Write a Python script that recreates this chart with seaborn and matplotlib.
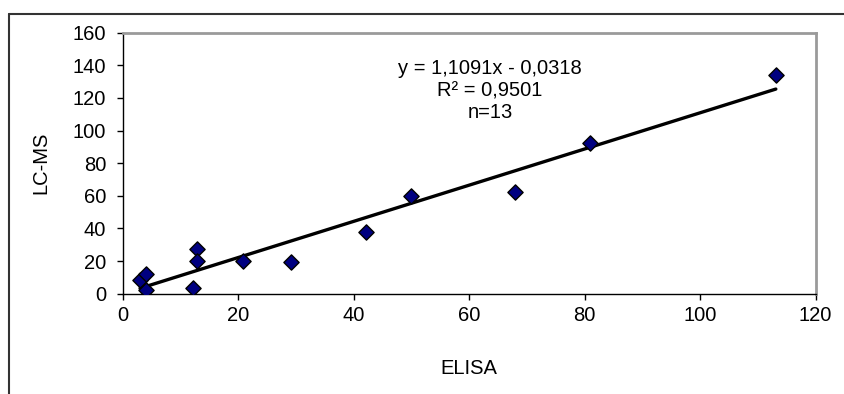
import numpy as np
import pandas as pd
import matplotlib.pyplot as plt
import seaborn as sns
from matplotlib.lines import Line2D

# dati
elisa = [3.0, 4.1, 4.1, 12.1, 12.9, 12.9, 20.9, 29.1, 42.1, 50.0, 67.9, 80.9, 113.1]
lcms = [8.6, 12.0, 2.4, 3.5, 27.3, 20.0, 20.0, 19.2, 37.9, 60.1, 62.2, 92.5, 134.1]
slope = 1.1091
intercept = -0.0318
eq_text = "y = 1,1091x - 0,0318"
r2_text = "R² = 0,9501"
n_text = "n=13"

df = pd.DataFrame({"ELISA": elisa, "LC-MS": lcms})
xs = np.array([min(elisa), max(elisa)])
fit = pd.DataFrame({"x": xs, "y": slope * xs + intercept})

sns.set_style("white")
plt.rcParams["font.family"] = ["Liberation Sans", "DejaVu Sans"]
plt.rcParams["text.color"] = "black"
plt.rcParams["axes.labelcolor"] = "black"
plt.rcParams["xtick.color"] = "black"
plt.rcParams["ytick.color"] = "black"

fs = 14.5

fig = plt.figure(figsize=(8.45, 3.94), dpi=100)
ax = fig.add_axes([0.1452, 0.2546, 0.8201, 0.6626])

sns.lineplot(data=fit, x="x", y="y", color="black", linewidth=2.4, ax=ax, zorder=2)
sns.scatterplot(data=df, x="ELISA", y="LC-MS", marker="D", s=60, color="#000080",
                edgecolor="black", linewidth=1.0, ax=ax, zorder=3)

ax.set_xlim(0, 120)
ax.set_ylim(0, 160)
ax.set_xticks(range(0, 121, 20))
ax.set_yticks(range(0, 161, 20))
ax.tick_params(axis="both", direction="out", length=4, width=1, color="black",
               labelsize=fs, left=True, bottom=True)
ax.tick_params(axis="x", pad=5)
ax.tick_params(axis="y", pad=8)
ax.set_xlabel("ELISA", fontsize=fs, labelpad=24)
ax.set_ylabel("LC-MS", fontsize=fs, labelpad=16)

for side in ["left", "bottom"]:
    ax.spines[side].set_color("black")
    ax.spines[side].set_linewidth(1.0)
for side in ["top", "right"]:
    ax.spines[side].set_color("#9a9a9a")
    ax.spines[side].set_linewidth(2.0)

ax.text(63.6, 138, eq_text, ha="center", va="center", fontsize=fs)
ax.text(63.6, 124.5, r2_text, ha="center", va="center", fontsize=fs)
ax.text(63.6, 111, n_text, ha="center", va="center", fontsize=fs)

# cornice esterna (solo sopra e a sinistra)
fig.add_artist(Line2D([9 / 845, 1], [1 - 14 / 394, 1 - 14 / 394], color="#333333", linewidth=1.5))
fig.add_artist(Line2D([9 / 845, 9 / 845], [0, 1 - 14 / 394], color="#333333", linewidth=1.5))

fig.savefig("out.png", dpi=100)
